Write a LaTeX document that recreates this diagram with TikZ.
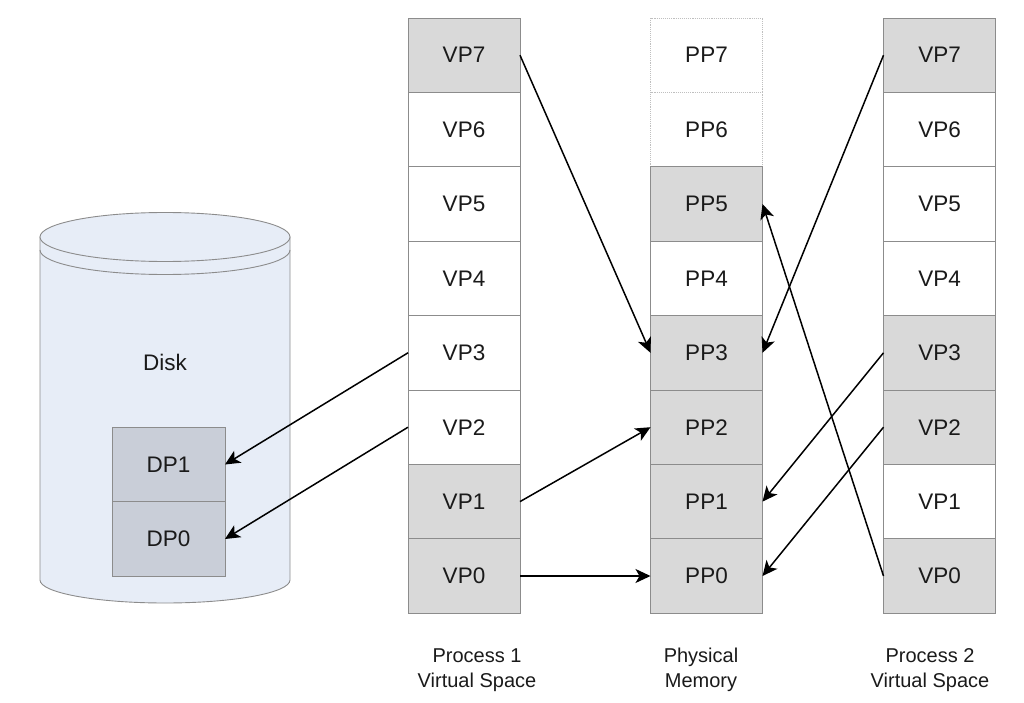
\documentclass[tikz,border=0pt]{standalone}
\usepackage{fontspec}
\setmainfont{Liberation Sans}
\usetikzlibrary{arrows.meta}
\definecolor{cellgrey}{HTML}{D9D9D9}
\definecolor{cellline}{HTML}{8C8C8C}
\definecolor{diskfill}{HTML}{E7EDF7}
\definecolor{dpfill}{HTML}{C9CED8}
\definecolor{txt}{HTML}{1A1A1A}
\tikzset{
  cell/.style={draw=cellline, line width=0.9pt, minimum width=112pt, minimum height=74.4pt,
    inner sep=0pt, outer sep=0pt, font=\fontsize{22.5}{26}\selectfont, text=txt},
  used/.style={cell, fill=cellgrey},
  free/.style={cell, fill=white},
  ghost/.style={cell, draw=black!25, densely dotted, fill=white},
  dpbox/.style={cell, fill=dpfill, minimum width=113pt, minimum height=74.5pt},
  lbl/.style={align=center, font=\fontsize{20}{25}\selectfont, text=txt},
  link/.style={line width=1.5pt, -{Stealth[length=15pt,width=14pt,inset=4pt]}}
}
\begin{document}
\begin{tikzpicture}[x=1pt,y=-1pt]
\useasboundingbox (0,0) rectangle (1024,703);
% disk
\draw[cellline, line width=0.9pt, fill=diskfill] (40,237) -- (40,580)
  arc[start angle=180, end angle=360, x radius=125pt, y radius=23pt] -- (290,237) -- cycle;
\draw[cellline, line width=0.9pt] (40,250) arc[start angle=180, end angle=360, x radius=125pt, y radius=24.5pt];
\draw[cellline, line width=0.9pt, fill=diskfill] (165,237) ellipse [x radius=125pt, y radius=24.5pt];
\node[lbl, font=\fontsize{22.5}{26}\selectfont] (disk) at (165,362) {Disk};
\node[dpbox] (dp1) at (168.5,464.5) {DP1};
\node[dpbox] (dp0) at (168.5,539) {DP0};
% process 1
\node[used] (a7) at (464,55.2) {VP7};
\node[free] (a6) at (464,129.6) {VP6};
\node[free] (a5) at (464,204.0) {VP5};
\node[free] (a4) at (464,278.4) {VP4};
\node[free] (a3) at (464,352.8) {VP3};
\node[free] (a2) at (464,427.2) {VP2};
\node[used] (a1) at (464,501.6) {VP1};
\node[used] (a0) at (464,576.0) {VP0};
% physical
\node[ghost] (p7) at (706.5,55.2) {PP7};
\node[ghost] (p6) at (706.5,129.6) {PP6};
\node[used] (p5) at (706.5,204.0) {PP5};
\node[free] (p4) at (706.5,278.4) {PP4};
\node[used] (p3) at (706.5,352.8) {PP3};
\node[used] (p2) at (706.5,427.2) {PP2};
\node[used] (p1) at (706.5,501.6) {PP1};
\node[used] (p0) at (706.5,576.0) {PP0};
% process 2
\node[used] (b7) at (939.5,55.2) {VP7};
\node[free] (b6) at (939.5,129.6) {VP6};
\node[free] (b5) at (939.5,204.0) {VP5};
\node[free] (b4) at (939.5,278.4) {VP4};
\node[used] (b3) at (939.5,352.8) {VP3};
\node[used] (b2) at (939.5,427.2) {VP2};
\node[free] (b1) at (939.5,501.6) {VP1};
\node[used] (b0) at (939.5,576.0) {VP0};
% labels
\node[lbl] (l1) at (477,670) {Process 1\\Virtual Space};
\node[lbl] (l2) at (701,670) {Physical\\Memory};
\node[lbl] (l3) at (930,670) {Process 2\\Virtual Space};
% arrows
\draw[link] (a7.east) -- (p3.west);
\draw[link] (a3.west) -- (dp1.east);
\draw[link] (a2.west) -- (dp0.east);
\draw[link] (a1.east) -- (p2.west);
\draw[link] (a0.east) -- (p0.west);
\draw[link] (b7.west) -- (p3.east);
\draw[link] (b3.west) -- (p1.east);
\draw[link] (b2.west) -- (p0.east);
\draw[link] (b0.west) -- (p5.east);
\end{tikzpicture}
\end{document}
